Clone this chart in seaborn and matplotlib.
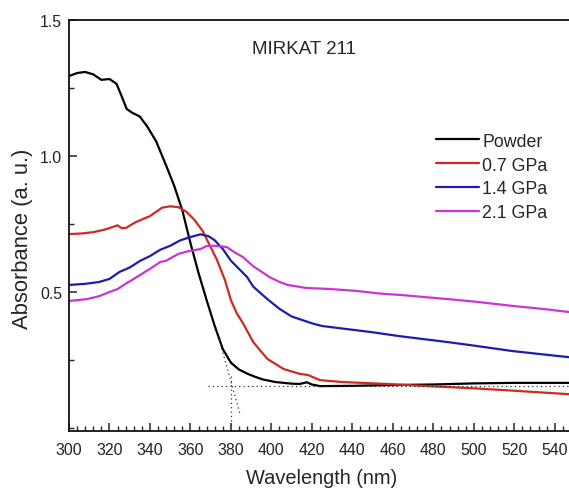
import numpy as np
import pandas as pd
import matplotlib
matplotlib.use("Agg")
import matplotlib.pyplot as plt
import seaborn as sns
from matplotlib.ticker import MultipleLocator

# absorbance curves (wavelength in nm, absorbance in a.u.)
powder_wl = [300, 304, 308, 312, 316, 320, 323.5, 326, 328.5, 331, 335, 338.5, 343, 348, 352,
             356, 360, 364, 368, 372, 376, 380, 384, 388, 392, 396, 402, 410, 414, 417.5, 420,
             424, 440, 460, 480, 500, 520, 550]
powder_abs = [1.294, 1.305, 1.309, 1.300, 1.280, 1.283, 1.265, 1.220, 1.173, 1.160, 1.145, 1.110,
              1.055, 0.965, 0.890, 0.800, 0.680, 0.570, 0.470, 0.375, 0.290, 0.240, 0.215, 0.200,
              0.188, 0.178, 0.169, 0.163, 0.162, 0.168, 0.160, 0.154, 0.155, 0.158, 0.160, 0.164,
              0.166, 0.166]

gpa07_wl = [300, 306, 312, 318, 322, 324, 326, 328, 333, 340, 346, 350, 354, 358, 362, 366, 370,
            373, 377, 380, 383, 386, 391, 398, 406, 414, 418, 424, 435, 457, 480, 500, 520, 550]
gpa07_abs = [0.713, 0.715, 0.720, 0.730, 0.740, 0.745, 0.735, 0.735, 0.757, 0.779, 0.810, 0.815,
             0.812, 0.795, 0.765, 0.725, 0.665, 0.620, 0.545, 0.470, 0.420, 0.385, 0.316, 0.254,
             0.217, 0.199, 0.195, 0.176, 0.169, 0.162, 0.153, 0.146, 0.137, 0.123]

gpa14_wl = [300, 308, 315, 320, 325, 330, 335, 340, 345, 350, 355, 360, 365, 369, 372, 376, 380,
            384, 388, 391, 394, 398, 404, 410, 414, 420, 425, 437, 450, 463, 475, 487, 500, 519,
            535, 550]
gpa14_abs = [0.526, 0.530, 0.537, 0.548, 0.574, 0.590, 0.614, 0.632, 0.655, 0.670, 0.690, 0.702,
             0.712, 0.705, 0.690, 0.658, 0.615, 0.585, 0.555, 0.520, 0.500, 0.474, 0.438, 0.410,
             0.400, 0.385, 0.375, 0.364, 0.352, 0.338, 0.327, 0.316, 0.303, 0.283, 0.270, 0.258]

gpa21_wl = [300, 309, 315, 320, 324, 329, 332, 340, 345, 348, 354, 359, 365, 368, 371, 375, 378,
            382, 386, 391, 395, 399, 404, 408, 417, 429, 442, 454, 464, 487, 500, 519, 535, 550]
gpa21_abs = [0.467, 0.474, 0.485, 0.500, 0.511, 0.535, 0.548, 0.585, 0.610, 0.615, 0.640, 0.650,
             0.658, 0.669, 0.670, 0.668, 0.665, 0.645, 0.628, 0.595, 0.575, 0.555, 0.537, 0.526,
             0.515, 0.511, 0.504, 0.494, 0.489, 0.474, 0.465, 0.449, 0.437, 0.424]

series_names = ["Powder", "0.7 GPa", "1.4 GPa", "2.1 GPa"]
series_colors = ["#000000", "#cc2a22", "#1c1cae", "#cc33d6"]

# dotted construction lines for the band-edge estimate
tangent_wl = [372.5, 384.5]
tangent_abs = [0.370, 0.052]
baseline_wl = [368.5, 550]
baseline_abs = [0.155, 0.155]
edge_wl = [380, 380]
edge_abs = [0.19, 0.0]

frames = []
for name, wl, ab in zip(series_names,
                        [powder_wl, gpa07_wl, gpa14_wl, gpa21_wl],
                        [powder_abs, gpa07_abs, gpa14_abs, gpa21_abs]):
    frames.append(pd.DataFrame({"wl": wl, "abs": ab, "sample": name}))
df = pd.concat(frames, ignore_index=True)

sns.set_style("ticks")
plt.rcParams["font.family"] = ["Liberation Sans", "DejaVu Sans"]

fig = plt.figure(figsize=(5.69, 4.89), dpi=100)
ax = fig.add_axes([69 / 569, 57 / 489, 506 / 569, 411 / 489])

sns.lineplot(data=df, x="wl", y="abs", hue="sample", hue_order=series_names,
             palette=series_colors, linewidth=1.6, ax=ax, estimator=None, sort=False)

for wl, ab in [(tangent_wl, tangent_abs), (baseline_wl, baseline_abs), (edge_wl, edge_abs)]:
    ax.plot(wl, ab, linestyle=(0, (1, 2.5)), color="#333333", linewidth=0.9)

ax.set_xlim(300, 550)
ax.set_ylim(-0.011, 1.5)
ax.xaxis.set_major_locator(MultipleLocator(20))
ax.xaxis.set_minor_locator(MultipleLocator(4))
ax.yaxis.set_major_locator(MultipleLocator(0.5))
ax.yaxis.set_minor_locator(MultipleLocator(0.25))
ax.set_yticks([0.5, 1.0, 1.5])
ax.tick_params(which="major", direction="in", length=6, width=1.1, labelsize=11.4,
               labelcolor="#222222")
ax.tick_params(which="minor", direction="in", length=3.5, width=1.0)
ax.tick_params(axis="x", which="both", top=False, pad=8)
ax.tick_params(axis="y", which="both", right=False, pad=5)
for s in ax.spines.values():
    s.set_linewidth(1.3)
    s.set_color("#111111")

ax.set_xlabel("Wavelength (nm)", fontsize=14.4, labelpad=8)
ax.set_ylabel("Absorbance (a. u.)", fontsize=15.8)
ax.yaxis.set_label_coords(-0.072, 0.47)

ax.text(416, 1.395, "MIRKAT 211", fontsize=13.5, ha="center", va="center")

leg = ax.legend(loc="upper left", bbox_to_anchor=(0.694, 0.765), frameon=False,
                fontsize=12.8, handlelength=2.4, handletextpad=0.2, labelspacing=0.39)

fig.savefig("out.png", dpi=100)
